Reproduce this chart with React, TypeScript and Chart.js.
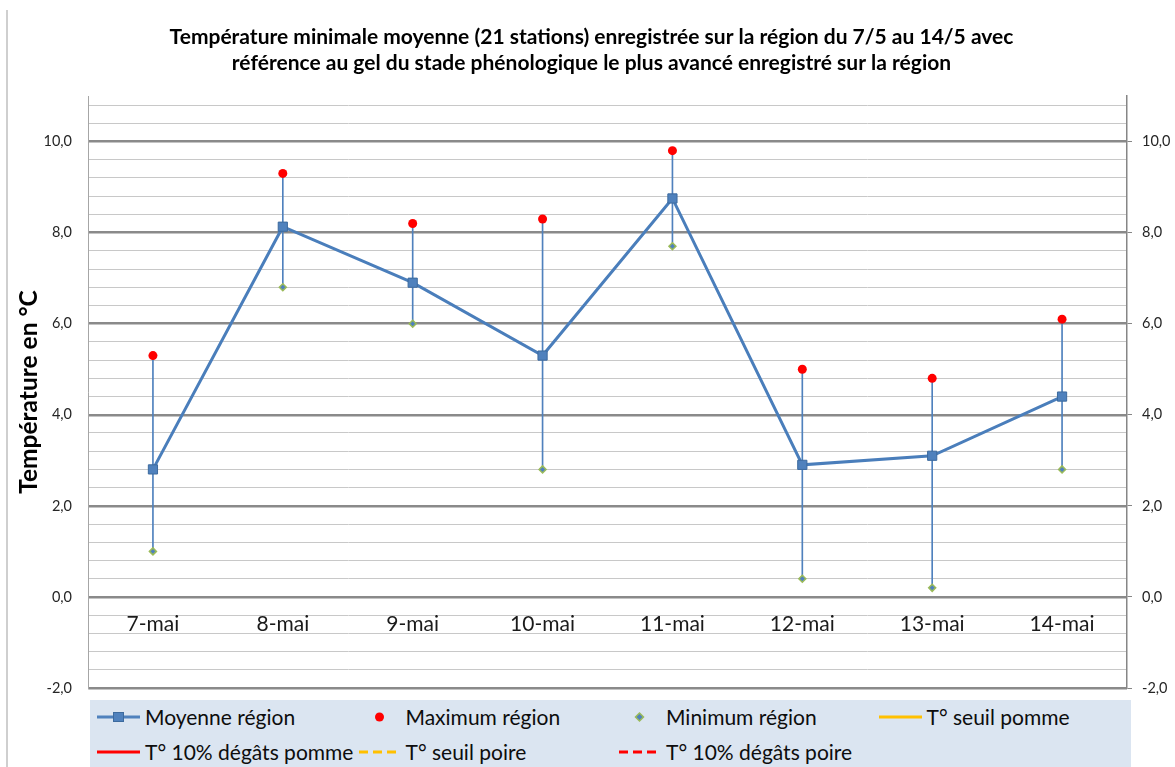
import React, { useEffect, useRef } from 'react';
import { Chart, registerables } from 'chart.js';
Chart.register(...registerables);

const categories = ['7-mai', '8-mai', '9-mai', '10-mai', '11-mai', '12-mai', '13-mai', '14-mai'];
const moyenneRegion = [2.8, 8.13, 6.9, 5.3, 8.75, 2.9, 3.1, 4.4];
const maximumRegion = [5.3, 9.3, 8.2, 8.3, 9.8, 5.0, 4.8, 6.1];
const minimumRegion = [1.0, 6.8, 6.0, 2.8, 7.7, 0.4, 0.2, 2.8];
const seuilPomme: number[] = [];
const degatsPomme: number[] = [];
const seuilPoire: number[] = [];
const degatsPoire: number[] = [];
const majorTicks = [-2, 0, 2, 4, 6, 8, 10];
const yMin = -2;
const yMax = 11;
const minorStep = 0.4;
const titleLines = [
  'Température minimale moyenne (21 stations) enregistrée sur la région du 7/5 au 14/5 avec',
  'référence au gel du stade phénologique le plus avancé enregistré sur la région',
];
const yTitle = 'Température en °C';

const FONT = 'Lato, "Open Sans", sans-serif';
const BLUE = '#4f81bd';
const RED = '#ff0000';
const ORANGE = '#ffc000';
const GREEN = '#9bbb59';

type LegendKind = 'lineSquare' | 'dot' | 'diamond' | 'line' | 'dash';
const legendItems: { label: string; kind: LegendKind; color: string }[] = [
  { label: 'Moyenne région', kind: 'lineSquare', color: BLUE },
  { label: 'Maximum région', kind: 'dot', color: RED },
  { label: 'Minimum région', kind: 'diamond', color: BLUE },
  { label: 'T° seuil pomme', kind: 'line', color: ORANGE },
  { label: 'T° 10% dégâts pomme', kind: 'line', color: RED },
  { label: 'T° seuil poire', kind: 'dash', color: ORANGE },
  { label: 'T° 10% dégâts poire', kind: 'dash', color: RED },
];

const fmt = (v: number) => v.toFixed(1).replace('.', ',');
const isMajor = (v: number) => Math.abs(v / 2 - Math.round(v / 2)) < 1e-6;

function minorTickValues() {
  const out: { value: number }[] = [];
  const n = Math.round((yMax - yMin) / minorStep);
  for (let i = 0; i < n; i++) {
    const v = Math.round((yMin + i * minorStep) * 10) / 10;
    if (v < yMax) out.push({ value: v });
  }
  return out;
}

function Symbol({ kind, color }: { kind: LegendKind; color: string }) {
  return (
    <svg width={43} height={20} style={{ display: 'block' }}>
      {(kind === 'line' || kind === 'lineSquare') && (
        <line x1={0} y1={10} x2={43} y2={10} stroke={color} strokeWidth={3} />
      )}
      {kind === 'dash' && (
        <line x1={1} y1={10} x2={42} y2={10} stroke={color} strokeWidth={3} strokeDasharray="9 5" />
      )}
      {kind === 'lineSquare' && (
        <rect x={16.5} y={5.5} width={10} height={9} fill={BLUE} stroke="#3c6a9e" strokeWidth={1} />
      )}
      {kind === 'dot' && <circle cx={21.5} cy={10} r={4.5} fill={color} />}
      {kind === 'diamond' && (
        <polygon points="21.5,6 25.5,10 21.5,14 17.5,10" fill={BLUE} stroke={GREEN} strokeWidth={1.5} />
      )}
    </svg>
  );
}

export default function App() {
  const ref = useRef<HTMLCanvasElement>(null);

  useEffect(() => {
    if (!ref.current) return;
    const chart = new Chart(ref.current, {
      type: 'line',
      data: {
        labels: categories,
        datasets: [
          {
            type: 'line',
            label: legendItems[0].label,
            data: moyenneRegion,
            borderColor: '#4a7ebb',
            borderWidth: 3,
            backgroundColor: BLUE,
            pointStyle: 'rect',
            pointRadius: 6.5,
            pointBackgroundColor: BLUE,
            pointBorderColor: '#3c6a9e',
            pointBorderWidth: 1,
            tension: 0,
            order: 1,
            yAxisID: 'y',
          },
          {
            type: 'line',
            label: legendItems[1].label,
            data: maximumRegion,
            showLine: false,
            pointStyle: 'circle',
            pointRadius: 4.5,
            pointBackgroundColor: RED,
            pointBorderWidth: 0,
            order: 2,
            yAxisID: 'y',
          },
          {
            type: 'line',
            label: legendItems[2].label,
            data: minimumRegion,
            showLine: false,
            pointStyle: 'rectRot',
            pointRadius: 3.5,
            pointBackgroundColor: BLUE,
            pointBorderColor: GREEN,
            pointBorderWidth: 1.5,
            order: 3,
            yAxisID: 'y',
          },
          { type: 'line', label: legendItems[3].label, data: seuilPomme, borderColor: ORANGE, borderWidth: 3, pointRadius: 0, yAxisID: 'y' },
          { type: 'line', label: legendItems[4].label, data: degatsPomme, borderColor: RED, borderWidth: 3, pointRadius: 0, yAxisID: 'y' },
          { type: 'line', label: legendItems[5].label, data: seuilPoire, borderColor: ORANGE, borderDash: [9, 5], borderWidth: 3, pointRadius: 0, yAxisID: 'y' },
          { type: 'line', label: legendItems[6].label, data: degatsPoire, borderColor: RED, borderDash: [9, 5], borderWidth: 3, pointRadius: 0, yAxisID: 'y' },
          {
            type: 'bar',
            label: 'hi-low',
            data: minimumRegion.map((m, i) => [m, maximumRegion[i]]) as any,
            backgroundColor: BLUE,
            barThickness: 1,
            order: 10,
            yAxisID: 'y',
          } as any,
        ],
      },
      options: {
        responsive: false,
        animation: false,
        layout: { padding: { left: 8, right: 0, top: 0, bottom: 79 } },
        plugins: {
          legend: { display: false },
          tooltip: { enabled: false },
          title: {
            display: true,
            text: titleLines,
            color: '#000',
            font: { family: FONT, size: 21, weight: 'bold', lineHeight: 26 / 21 },
            padding: { top: 24, bottom: 20 },
          },
        },
        scales: {
          x: {
            type: 'category',
            position: { y: 0 } as any,
            offset: true,
            grid: { display: false, drawTicks: false },
            border: { display: false },
            ticks: {
              color: '#1a1a1a',
              padding: 15,
              font: { family: FONT, size: 21 },
              autoSkip: false,
              maxRotation: 0,
            },
          },
          y: {
            position: 'left',
            min: yMin,
            max: yMax,
            afterBuildTicks: (s: any) => {
              s.ticks = minorTickValues();
            },
            afterFit: (s: any) => {
              s.width = 80;
            },
            grid: {
              drawTicks: false,
              color: (c: any) => (c.tick && isMajor(c.tick.value) ? '#8a8a8a' : '#c8c8c8'),
              lineWidth: (c: any) => (c.tick && isMajor(c.tick.value) ? 2.5 : 1),
            },
            border: { display: true, color: '#a6a6a6', width: 1 },
            ticks: {
              autoSkip: false,
              padding: 16,
              color: '#262626',
              font: { family: FONT, size: 14.5 },
              callback: (v: any) => (isMajor(Number(v)) ? fmt(Number(v)) : ''),
            },
            title: {
              display: true,
              text: yTitle,
              color: '#000',
              font: { family: FONT, size: 24.5, weight: 'bold', lineHeight: 1.1 },
              padding: { top: 8, bottom: 0 },
            },
          },
          y2: {
            position: 'right',
            min: yMin,
            max: yMax,
            afterBuildTicks: (s: any) => {
              s.ticks = majorTicks.map((v) => ({ value: v }));
            },
            afterFit: (s: any) => {
              s.width = 48;
            },
            grid: { drawOnChartArea: false, drawTicks: true, tickLength: 5, tickColor: '#868686' },
            border: { display: true, color: '#868686', width: 1.5 },
            ticks: {
              autoSkip: false,
              padding: 10,
              color: '#262626',
              font: { family: FONT, size: 14.5 },
              callback: (v: any) => fmt(Number(v)),
            },
          },
        },
      },
    });
    return () => chart.destroy();
  }, []);

  const colX = (c: number) => 97 + c * 260.5;
  const rowY = [717, 752];

  return (
    <div style={{ position: 'absolute', left: 0, top: 0, width: 1175, height: 767, overflow: 'hidden', background: '#fff' }}>
      <div style={{ position: 'absolute', left: 6, top: 10, width: 2, height: 757, background: '#cfcfcf' }} />
      <canvas ref={ref} width={1175} height={767} style={{ position: 'absolute', left: 0, top: 0 }} />
      <div style={{ position: 'absolute', left: 90, top: 700, width: 1041, height: 80, background: '#dbe5f1' }} />
      {legendItems.map((it, i) => {
        const row = i < 4 ? 0 : 1;
        const col = i < 4 ? i : i - 4;
        const x = colX(col);
        const y = rowY[row];
        return (
          <React.Fragment key={it.label}>
            <div style={{ position: 'absolute', left: x, top: y - 10 }}>
              <Symbol kind={it.kind} color={it.color} />
            </div>
            <div
              style={{
                position: 'absolute',
                left: x + 48,
                top: y - 15,
                height: 30,
                lineHeight: '30px',
                fontFamily: FONT,
                fontSize: 21,
                color: '#0d0d0d',
                whiteSpace: 'nowrap',
              }}
            >
              {it.label}
            </div>
          </React.Fragment>
        );
      })}
    </div>
  );
}
